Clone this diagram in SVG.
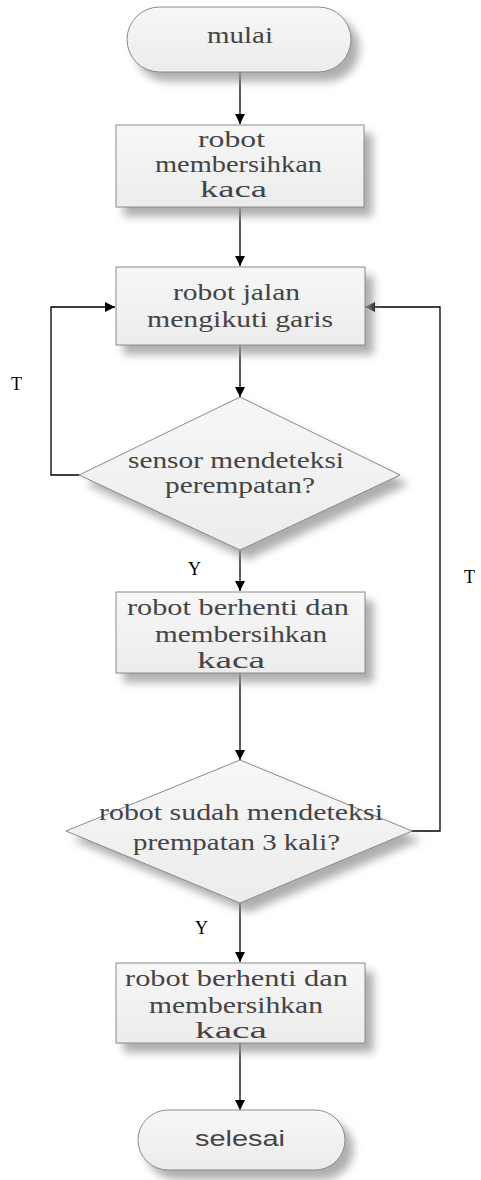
<svg xmlns="http://www.w3.org/2000/svg" width="481" height="1180" viewBox="0 0 481 1180">
  <defs>
    <linearGradient id="fillGrad" x1="0" y1="0" x2="0" y2="1">
      <stop offset="0" stop-color="#f7f7f7"/>
      <stop offset="1" stop-color="#ececec"/>
    </linearGradient>
    <filter id="shadow" x="-20%" y="-20%" width="150%" height="160%">
      <feGaussianBlur in="SourceAlpha" stdDeviation="4"/>
      <feOffset dx="8" dy="9" result="blur"/>
      <feFlood flood-color="#9a9a9a" flood-opacity="0.8"/>
      <feComposite in2="blur" operator="in" result="sh"/>
      <feMerge>
        <feMergeNode in="sh"/>
        <feMergeNode in="SourceGraphic"/>
      </feMerge>
    </filter>
    <marker id="arrow" markerWidth="10" markerHeight="10" refX="10" refY="5" orient="auto" markerUnits="userSpaceOnUse">
      <path d="M0,0 L10,5 L0,10 Z" fill="#000"/>
    </marker>
  </defs>
  <style>
    .shape { fill: url(#fillGrad); stroke: #8a8a8a; stroke-width: 1; filter: url(#shadow); }
    .lbl { font-family: "Liberation Serif", "Times New Roman", serif; font-size: 23px; fill: #444; text-anchor: start; }
    .sans { font-family: "Liberation Sans", Arial, sans-serif; font-size: 22px; fill: #444; }
    .edge { fill: none; stroke: #000; stroke-width: 1.3; }
    .tag { font-family: "Liberation Serif", "Times New Roman", serif; font-size: 18px; fill: #000; }
  </style>

  <rect width="481" height="1180" fill="#fff"/>

  <g id="connectors">
    <line class="edge" x1="240" y1="72" x2="240" y2="124" marker-end="url(#arrow)"/>
    <line class="edge" x1="240" y1="207" x2="240" y2="266" marker-end="url(#arrow)"/>
    <line class="edge" x1="240" y1="345" x2="240" y2="397" marker-end="url(#arrow)"/>
    <line class="edge" x1="240" y1="550" x2="240" y2="591" marker-end="url(#arrow)"/>
    <line class="edge" x1="240" y1="673" x2="240" y2="760" marker-end="url(#arrow)"/>
    <line class="edge" x1="240" y1="903" x2="240" y2="962" marker-end="url(#arrow)"/>
    <line class="edge" x1="240" y1="1043" x2="240" y2="1110" marker-end="url(#arrow)"/>
    <polyline class="edge" points="79,475 51,475 51,307 115,307" marker-end="url(#arrow)"/>
    <polyline class="edge" points="412,831 440,831 440,307 365,307" marker-end="url(#arrow)"/>
    <text class="tag" x="11" y="390">T</text>
    <text class="tag" x="188" y="575">Y</text>
    <text class="tag" x="195" y="934">Y</text>
    <text class="tag" x="464" y="583">T</text>
  </g>

  <g id="start">
    <rect class="shape" x="127" y="7" width="224" height="65" rx="32.5" ry="32.5"/>
    <text class="lbl" x="207" y="43" textLength="66" lengthAdjust="spacingAndGlyphs">mulai</text>
  </g>

  <g id="clean1">
    <rect class="shape" x="116" y="125" width="248" height="82"/>
    <text class="lbl" x="198" y="147" textLength="67" lengthAdjust="spacingAndGlyphs">robot</text>
    <text class="lbl" x="155" y="172" textLength="167" lengthAdjust="spacingAndGlyphs">membersihkan</text>
    <text class="lbl" x="200" y="197" textLength="67" lengthAdjust="spacingAndGlyphs">kaca</text>
  </g>

  <g id="follow">
    <rect class="shape" x="116" y="267" width="249" height="78"/>
    <text class="lbl" x="173" y="300" textLength="127" lengthAdjust="spacingAndGlyphs">robot jalan</text>
    <text class="lbl" x="147" y="327" textLength="186" lengthAdjust="spacingAndGlyphs">mengikuti garis</text>
  </g>

  <g id="check1">
    <polygon class="shape" points="240,397 400,475 240,550 79,475"/>
    <text class="lbl" x="128" y="468" textLength="216" lengthAdjust="spacingAndGlyphs">sensor mendeteksi</text>
    <text class="lbl" x="165" y="493" textLength="150" lengthAdjust="spacingAndGlyphs">perempatan?</text>
  </g>

  <g id="clean2">
    <rect class="shape" x="116" y="592" width="249" height="81"/>
    <text class="lbl" x="127" y="615" textLength="222" lengthAdjust="spacingAndGlyphs">robot berhenti dan</text>
    <text class="lbl" x="155" y="642" textLength="172" lengthAdjust="spacingAndGlyphs">membersihkan</text>
    <text class="lbl" x="197" y="668" textLength="68" lengthAdjust="spacingAndGlyphs">kaca</text>
  </g>

  <g id="check2">
    <polygon class="shape" points="240,760 412,831 240,903 66,831"/>
    <text class="lbl" x="99" y="820" textLength="284" lengthAdjust="spacingAndGlyphs">robot sudah mendeteksi</text>
    <text class="lbl" x="133" y="850" textLength="207" lengthAdjust="spacingAndGlyphs">prempatan 3 kali?</text>
  </g>

  <g id="clean3">
    <rect class="shape" x="116" y="963" width="249" height="80"/>
    <text class="lbl" x="125" y="986" textLength="223" lengthAdjust="spacingAndGlyphs">robot berhenti dan</text>
    <text class="lbl" x="149" y="1013" textLength="174" lengthAdjust="spacingAndGlyphs">membersihkan</text>
    <text class="lbl" x="195" y="1038" textLength="72" lengthAdjust="spacingAndGlyphs">kaca</text>
  </g>

  <g id="end">
    <rect class="shape" x="138" y="1110" width="207" height="60" rx="30" ry="30"/>
    <text class="sans" x="195" y="1146" textLength="90" lengthAdjust="spacingAndGlyphs">selesai</text>
  </g>
</svg>
